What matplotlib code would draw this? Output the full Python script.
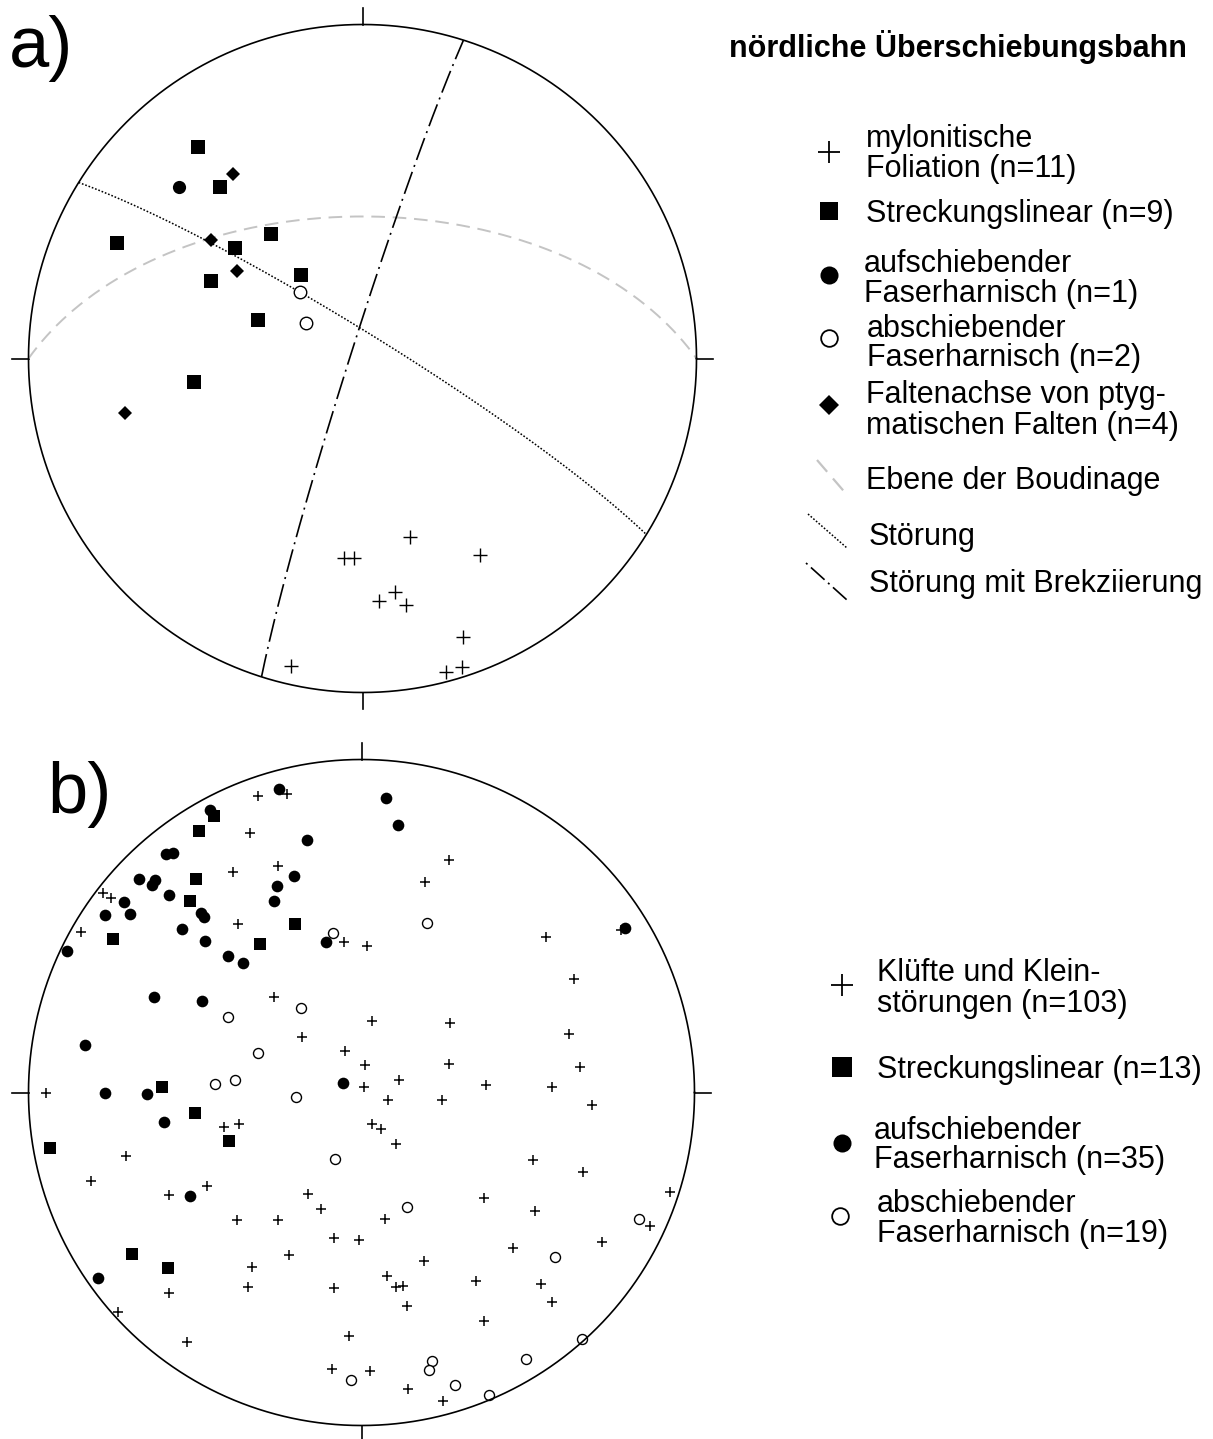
import numpy as np
import matplotlib
matplotlib.use("Agg")
import matplotlib.pyplot as plt

plt.rcParams['font.family'] = ['Liberation Sans', 'DejaVu Sans']

# ---------------- data (Schmidt net, lower hemisphere; x = East, y = North, unit = primitive radius)
# a) nördliche Überschiebungsbahn
a_foliation_x = [0.141, -0.054, -0.024, 0.352, 0.048, 0.097, 0.130, 0.301, -0.214, 0.249, 0.298]
a_foliation_y = [-0.533, -0.597, -0.597, -0.588, -0.726, -0.699, -0.738, -0.835, -0.921, -0.939, -0.925]
a_linear_x = [-0.494, -0.428, -0.736, -0.383, -0.274, -0.454, -0.184, -0.313, -0.503]
a_linear_y = [0.632, 0.512, 0.346, 0.332, 0.373, 0.231, 0.250, 0.114, -0.069]
a_auf_x = [-0.549]
a_auf_y = [0.512]
a_ab_x = [-0.186, -0.168]
a_ab_y = [0.198, 0.105]
a_fold_x = [-0.388, -0.455, -0.377, -0.711]
a_fold_y = [0.552, 0.354, 0.263, -0.163]
# planes as (dip direction, dip) in degrees
plane_boudinage = (0.0, 55.0)
plane_stoerung = (31.8, 84.0)
plane_brekzie = (287.6, 87.0)

# b)
b_kluft_x = [-0.310, -0.225, -0.335, -0.387, -0.252, -0.775, -0.753, -0.842, -0.372, -0.052,
             0.016, 0.264, 0.190, 0.554, 0.639, 0.779, -0.264, 0.032, 0.266, -0.179,
             0.624, -0.051, 0.012, 0.264, 0.655, 0.114, 0.008, 0.374, 0.572, -0.947,
             0.080, 0.241, 0.691, -0.414, -0.368, 0.031, 0.058, 0.105, -0.707, -0.811,
             -0.578, -0.465, -0.375, -0.250, -0.218, -0.329, -0.577, -0.340, -0.730, -0.523,
             0.515, 0.665, -0.161, -0.121, 0.368, 0.926, 0.070, 0.522, 0.867, -0.083,
             -0.008, 0.455, 0.722, 0.187, 0.077, 0.104, 0.126, 0.344, 0.539, -0.082,
             0.571, 0.136, 0.367, -0.038, -0.089, 0.026, 0.139, 0.246]
b_kluft_y = [0.890, 0.895, 0.780, 0.663, 0.680, 0.600, 0.585, 0.481, 0.506, 0.453,
             0.440, 0.697, 0.633, 0.467, 0.341, 0.488, 0.288, 0.216, 0.208, 0.167,
             0.177, 0.125, 0.083, 0.085, 0.078, 0.038, 0.018, 0.024, 0.017, -0.001,
             -0.024, -0.024, -0.039, -0.105, -0.095, -0.096, -0.110, -0.154, -0.191, -0.266,
             -0.309, -0.282, -0.384, -0.383, -0.487, -0.523, -0.602, -0.584, -0.660, -0.748,
             -0.204, -0.240, -0.306, -0.351, -0.316, -0.298, -0.381, -0.357, -0.402, -0.437,
             -0.442, -0.467, -0.448, -0.505, -0.551, -0.584, -0.581, -0.565, -0.575, -0.587,
             -0.629, -0.642, -0.686, -0.731, -0.830, -0.835, -0.891, -0.926]
b_linear_x = [-0.444, -0.489, -0.496, -0.514, -0.747, -0.201, -0.306, -0.598, -0.499, -0.399,
              -0.935, -0.689, -0.581]
b_linear_y = [0.830, 0.786, 0.641, 0.576, 0.461, 0.505, 0.447, 0.017, -0.063, -0.145,
              -0.166, -0.486, -0.527]
b_auf_x = [-0.247, -0.455, -0.163, -0.587, -0.565, -0.668, -0.620, -0.630, -0.578, -0.714,
           -0.769, -0.694, -0.482, -0.474, -0.539, -0.469, -0.400, -0.356, -0.202, -0.254,
           -0.262, -0.106, -0.883, 0.075, 0.110, 0.790, -0.624, -0.480, -0.830, -0.055,
           -0.771, -0.644, -0.593, -0.514, -0.790]
b_auf_y = [0.911, 0.848, 0.758, 0.716, 0.718, 0.640, 0.638, 0.623, 0.592, 0.573,
           0.533, 0.537, 0.540, 0.528, 0.491, 0.456, 0.411, 0.390, 0.650, 0.620,
           0.576, 0.452, 0.426, 0.883, 0.802, 0.493, 0.288, 0.274, 0.142, 0.029,
           -0.003, -0.005, -0.088, -0.312, -0.557]
b_ab_x = [-0.085, 0.198, -0.182, -0.402, -0.311, -0.379, -0.439, -0.198, -0.080, 0.136,
          0.834, 0.580, 0.662, 0.494, 0.213, 0.204, -0.032, 0.281, 0.382]
b_ab_y = [0.478, 0.508, 0.255, 0.226, 0.119, 0.038, 0.027, -0.014, -0.200, -0.345,
          -0.379, -0.494, -0.740, -0.799, -0.806, -0.832, -0.864, -0.879, -0.908]

title = "nördliche Überschiebungsbahn"
legend_a = [["mylonitische", "Foliation (n=11)"],
            ["Streckungslinear (n=9)"],
            ["aufschiebender", "Faserharnisch (n=1)"],
            ["abschiebender", "Faserharnisch (n=2)"],
            ["Faltenachse von ptyg-", "matischen Falten (n=4)"],
            ["Ebene der Boudinage"],
            ["Störung"],
            ["Störung mit Brekziierung"]]
legend_b = [["Klüfte und Klein-", "störungen (n=103)"],
            ["Streckungslinear (n=13)"],
            ["aufschiebender", "Faserharnisch (n=35)"],
            ["abschiebender", "Faserharnisch (n=19)"]]


def great_circle(dipdir, dip, n=400):
    dd = np.radians(dipdir)
    d = np.radians(dip)
    st = dd - np.pi / 2
    a = np.linspace(0, np.pi, n)
    s = np.array([np.sin(st), np.cos(st), 0.0])
    dv = np.array([np.sin(dd) * np.cos(d), np.cos(dd) * np.cos(d), -np.sin(d)])
    v = np.outer(np.cos(a), s) + np.outer(np.sin(a), dv)
    plunge = np.arcsin(np.clip(-v[:, 2], -1, 1))
    trend = np.arctan2(v[:, 0], v[:, 1])
    r = np.sqrt(2) * np.sin((np.pi / 2 - plunge) / 2)
    return r * np.sin(trend), r * np.cos(trend)


W, H = 1213, 1439
fig = plt.figure(figsize=(W / 100, H / 100), dpi=100)


def net_axes(cx, cy, R):
    ax = fig.add_axes([(cx - R) / W, 1 - (cy + R) / H, 2 * R / W, 2 * R / H])
    ax.set_xlim(-1, 1)
    ax.set_ylim(-1, 1)
    ax.axis('off')
    t = np.linspace(0, 2 * np.pi, 721)
    ax.plot(np.cos(t), np.sin(t), color='black', lw=1.2, clip_on=False, zorder=3)
    L = 0.05
    for (x0, y0, x1, y1) in [(0, 1, 0, 1 + L), (0, -1, 0, -1 - L), (-1, 0, -1 - L, 0), (1, 0, 1 + L, 0)]:
        ax.plot([x0, x1], [y0, y1], color='black', lw=1.2, clip_on=False)
    return ax


cross_kw = dict(marker='+', linestyle='none', color='black')

# ---------------- a)
axa = net_axes(362.5, 358.5, 334)
gx, gy = great_circle(*plane_boudinage)
axa.plot(gx, gy, color='#c4c4c4', lw=1.4, dashes=(7, 4))
gx, gy = great_circle(*plane_stoerung)
axa.plot(gx, gy, color='black', lw=1.1, dashes=(1.1, 1.2))
gx, gy = great_circle(*plane_brekzie)
axa.plot(gx, gy, color='black', lw=1.2, dashes=(14, 3.2, 1.2, 3.2))
axa.plot(a_foliation_x, a_foliation_y, ms=10.5, mew=1.0, **cross_kw)
axa.plot(a_linear_x, a_linear_y, 's', color='black', ms=10.5, mew=0)
axa.plot(a_auf_x, a_auf_y, 'o', color='black', ms=9.5, mew=0)
axa.plot(a_ab_x, a_ab_y, 'o', mfc='white', mec='black', ms=9, mew=1.0)
axa.plot(a_fold_x, a_fold_y, 'D', color='black', ms=7.2, mew=0)

# ---------------- b)
axb = net_axes(361.5, 1092.5, 333)
axb.plot(b_kluft_x, b_kluft_y, ms=7.5, mew=1.1, **cross_kw)
axb.plot(b_linear_x, b_linear_y, 's', color='black', ms=8.2, mew=0)
axb.plot(b_auf_x, b_auf_y, 'o', color='black', ms=8.4, mew=0)
axb.plot(b_ab_x, b_ab_y, 'o', mfc='white', mec='black', ms=7.2, mew=1.0)

# ---------------- labels and legends (overlay in pixel units)
lax = fig.add_axes([0, 0, 1, 1])
lax.set_xlim(0, W)
lax.set_ylim(H, 0)
lax.axis('off')

lax.text(9, 67, "a)", fontsize=52, ha='left', va='baseline')
lax.text(47, 813, "b)", fontsize=52, ha='left', va='baseline')
lax.text(729, 57, title, fontsize=22, fontweight='bold', ha='left', va='baseline')

fs = 22
# legend a
base_a = [(147, 177), (222,), (272, 302), (337, 366), (403, 434), (489,), (545,), (592,)]
xs_a = [866, 866, 864, 867, 866, 866, 869, 869]
for lines, bases, x in zip(legend_a, base_a, xs_a):
    for txt, yb in zip(lines, bases):
        lax.text(x, yb, txt, fontsize=fs, ha='left', va='baseline')

lax.plot([829], [152], ms=16, mew=1.3, **cross_kw)
lax.plot([829], [211], 's', color='black', ms=13.5, mew=0)
lax.plot([829], [275], 'o', color='black', ms=13, mew=0)
lax.plot([829], [338], 'o', mfc='white', mec='black', ms=12, mew=1.3)
lax.plot([829], [405], 'D', color='black', ms=10.5, mew=0)
lax.plot([817, 848], [460, 496], color='#c4c4c4', lw=1.6, dashes=(7, 4))
lax.plot([808, 847], [514, 548], color='black', lw=1.1, dashes=(1.1, 1.2))
lax.plot([806, 847], [563, 600], color='black', lw=1.2, dashes=(1.2, 2.8, 11, 2.8))

# legend b
base_b = [(981, 1012), (1078,), (1139, 1168), (1212, 1242)]
xs_b = [877, 877, 874, 877]
for lines, bases, x in zip(legend_b, base_b, xs_b):
    for txt, yb in zip(lines, bases):
        lax.text(x, yb, txt, fontsize=fs, ha='left', va='baseline')

lax.plot([842], [985], ms=16, mew=1.3, **cross_kw)
lax.plot([842], [1067], 's', color='black', ms=14, mew=0)
lax.plot([842], [1143], 'o', color='black', ms=13, mew=0)
lax.plot([840], [1216], 'o', mfc='white', mec='black', ms=12, mew=1.3)

fig.savefig("out.png", dpi=100, facecolor='white')
